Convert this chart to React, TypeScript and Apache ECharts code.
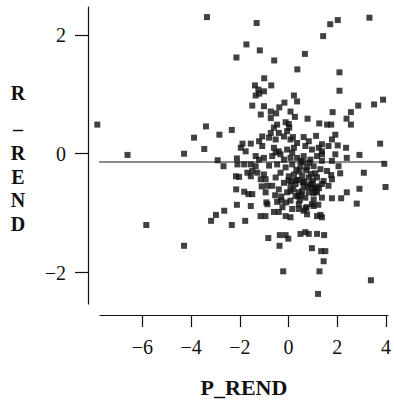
import { useEffect, useRef } from "react";
import * as echarts from "echarts";

// P_REND (x) and R_REND (y) observations
const pRend = [
  -7.85, -6.61, -4.29, -3.88, -5.84, -4.29, -3.35, -1.31, -1.73, -1.18,
  -2.14, -0.59, -1.0, -1.38, -0.71, -1.24, -1.01, -1.21, 1.71, 2.02,
  3.32, 1.42, 0.67, 0.36, 2.09, 2.09, 0.22, 0.35, 3.88, 3.51,
  2.86, -1.49, -1.01, -0.17, -0.38, -1.14, -0.73, -0.51, 1.81, 2.56,
  2.38, 0.26, 0.78, -3.39, -2.84, -2.33, -3.46, 1.26, 1.58, 1.75,
  2.56, -0.12, 0.03, 3.76, 3.93, 3.09, 2.91, 2.39, 2.12, 2.91,
  3.98, 2.39, 1.78, 2.16, 2.8, 0.96, 1.34, 1.51, 1.44, 1.27,
  1.21, 3.38, -0.22, -0.83, -0.36, -0.12, -0.01, -0.37, 0.49, 0.69,
  0.83, 1.17, 1.46, -3.18, -2.98, -2.64, -2.33, -2.12, -1.78, -1.55,
  -1.65, -1.49, -2.15, -1.82, -1.15, -0.95, -0.91, -0.6, -0.4, -0.47,
  -0.12, 0.15, 0.08, 0.42, 0.62, 0.76, 1.03, 1.17, 1.37, 1.31,
  -0.94, -0.87, -0.67, -2.16, -2.03, -1.55, -1.69, -1.28, -1.14, -1.49,
  -1.01, -0.94, -2.91, -2.67, -2.12, -2.1, -1.82, -1.55, -1.35, -1.35,
  -1.21, -1.01, -0.6, -0.4, -1.89, -1.55, -1.96, -1.76, -1.21, -1.08,
  -0.6, -0.73, -1.08, -0.19, -0.8, 0.08, 0.62, 1.13, 1.64, 1.92,
  1.78, 2.02, 2.36, 0.22, 0.69, 0.96, 1.24, 1.37, 1.37, 1.58,
  1.75, 1.37, 0.96, 1.09, -0.87, -0.3, -0.67, -0.53, -0.33,
  0.29, 0.56, 0.83, 1.03, 0.96, 0.08, 0.42, 0.69, 1.17, 1.37,
  0.15, 0.35, 0.62, 0.9, 1.17, 1.37, 0.15, 0.49, 0.76, 1.03,
  1.31, 0.22, 0.56, 0.83, 1.17, 1.44, 0.29, 0.62, 0.08, 0.42,
  -0.06, -0.19, 0.08, -0.47, -0.12, -0.33, 0.01, -0.53, -0.19, 0.08,
  -0.4, -0.06, 0.01, 0.18, 0.35, 0.83, 1.37, -1.35, -0.73, 0.08,
  -0.47, -0.4, -0.06, -0.53, 1.78, 2.05, 1.92, 1.78, 1.64,
  0.45, 0.72, 1.1, 0.3, 0.58, 0.95, 1.25, 0.5, 0.85, 1.15,
  -0.25, 0.0, 0.4, 0.7, 1.0,
  0.38, 0.64, 0.88, 1.08, 0.2, 0.52, 0.78, 1.02, 0.32, 0.6,
  0.92, -0.3, -0.1, 0.12, 0.46, 0.74, 1.22, -0.8, -1.1, -0.55,
];

const rRend = [
  0.49, -0.02, 0.0, 0.27, -1.2, -1.55, 2.3, 2.2, 1.84, 1.74,
  1.62, 1.57, 1.27, 1.15, 1.15, 1.08, 1.05, 1.01, 2.18, 2.25,
  2.29, 1.98, 1.68, 1.42, 1.37, 1.06, 0.98, 0.88, 0.91, 0.83,
  0.81, 0.81, 0.8, 0.86, 0.78, 0.66, 0.71, 0.68, 0.7, 0.7,
  0.59, 0.62, 0.59, 0.46, 0.32, 0.4, 0.08, 0.51, 0.49, 0.49,
  0.49, 0.53, 0.44, 0.17, -0.17, -0.32, -0.02, -0.07, -0.33, -0.59,
  -0.56, -0.65, -0.75, -0.75, -0.84, -1.59, -1.64, -1.64, -1.81, -1.98,
  -2.36, -2.13, -1.98, -1.42, -1.37, -1.37, -1.43, -1.55, -1.35, -1.32,
  -1.35, -1.35, -1.37, -1.13, -1.03, -0.96, -1.2, -0.86, -1.13, -0.88,
  -0.68, -0.68, -0.6, -0.64, -1.05, -1.05, -0.82, -0.98, -0.98, -0.81,
  -1.05, -0.93, -1.07, -0.93, -0.96, -1.02, -0.88, -1.05, -1.07, -1.03,
  -0.65, -0.54, -0.54, -0.38, -0.39, -0.38, -0.32, -0.32, -0.43, -0.29,
  -0.35, -0.43, -0.11, -0.21, -0.08, -0.18, -0.18, -0.18, -0.21, -0.04,
  -0.1, -0.07, 0.1, 0.04, 0.17, 0.17, 0.1, 0.04, 0.21, 0.13,
  0.44, 0.35, 0.29, 0.29, 0.27, 0.24, 0.28, 0.3, 0.13, 0.32,
  0.24, 0.14, 0.1, 0.1, 0.13, 0.07, 0.1, 0.04, -0.01, -0.29,
  -0.36, -0.51, -0.57, -0.64, -0.85, -0.79, -0.04, 0.02, -0.01,
  -0.71, -0.63, -0.65, -0.77, -0.85, -0.79, -0.85, -0.74, -0.65, -0.74,
  0.02, -0.07, -0.04, -0.1, -0.04, -0.12, -0.18, -0.21, -0.23, -0.21,
  -0.26, -0.35, -0.38, -0.4, -0.4, -0.46, -0.51, -0.54, -0.63, -0.65,
  0.07, -0.1, -0.07, -0.18, -0.23, -0.32, -0.38, -0.4, -0.49, -0.54,
  -0.6, -0.65, 0.5, 0.28, 0.18, 0.21, 0.16, 0.98, 0.6, 0.71,
  0.49, 0.35, 0.38, 0.24, -0.12, -0.21, -0.01, -0.43, -0.54,
  -0.3, -0.28, -0.33, -0.45, -0.48, -0.5, -0.58, -0.12, -0.15, -0.55,
  -0.9, -0.45, -0.72, -0.92, -0.45,
  -0.44, -0.47, -0.52, -0.58, -0.6, -0.7, -0.56, -0.66, -0.27, -0.14,
  -0.34, -0.72, -0.82, -0.46, -0.78, -0.9, -0.86, -0.2, -0.55, -0.7,
];

// fitted line
const fitX = [-7.91, 3.97];
const fitY = [-0.14, -0.14];

const xTicks = [-6, -4, -2, 0, 2, 4];
const yTicks = [-2, 0, 2];

// vertical axis title, one character per line
const yTitleChars = ["R", "_", "R", "E", "N", "D"];
const yTitleRows = [93, 121, 153, 177, 200, 224];

const FONT = "Liberation Serif, Times New Roman, serif";
const INK = "#111";

const fmt = (v: number) => (v < 0 ? "\u2212" + Math.abs(v) : String(v));

export default function App() {
  const ref = useRef<HTMLDivElement>(null);

  useEffect(() => {
    const chart = echarts.init(ref.current!, null, { renderer: "svg" });
    const points = pRend.map((x, i) => [x, rRend[i]]);
    const fit = fitX.map((x, i) => [x, fitY[i]]);

    chart.setOption({
      animation: false,
      backgroundColor: "#fff",
      grid: { left: 100, right: 4, top: 7, bottom: 98 },
      xAxis: {
        type: "value",
        min: -7.74,
        max: 4.08,
        offset: 11,
        axisLine: { onZero: false, lineStyle: { color: INK, width: 1.2 } },
        axisTick: { customValues: xTicks, length: 12, lineStyle: { color: INK, width: 1.2 } },
        axisLabel: {
          customValues: xTicks,
          formatter: fmt,
          margin: 22,
          fontFamily: FONT,
          fontSize: 20,
          color: INK,
        },
        splitLine: { show: false },
        name: "P_REND",
        nameLocation: "middle",
        nameGap: 61,
        nameTextStyle: { fontFamily: FONT, fontWeight: "bold", fontSize: 22, color: INK },
      },
      yAxis: {
        type: "value",
        min: -2.53,
        max: 2.47,
        offset: 12,
        axisLine: { show: true, onZero: false, lineStyle: { color: INK, width: 1.2 } },
        axisTick: { show: true, customValues: yTicks, length: 13, lineStyle: { color: INK, width: 1.2 } },
        axisLabel: {
          customValues: yTicks,
          formatter: fmt,
          margin: 22,
          fontFamily: FONT,
          fontSize: 20,
          color: INK,
        },
        splitLine: { show: false },
      },
      graphic: yTitleChars.map((ch, i) => ({
        type: "text",
        x: 18,
        y: yTitleRows[i],
        style: {
          text: ch,
          font: `bold 20px ${FONT}`,
          fill: INK,
          align: "center",
          verticalAlign: "middle",
        },
      })),
      series: [
        {
          type: "line",
          data: fit,
          showSymbol: false,
          clip: false,
          z: 1,
          lineStyle: { color: "#8c8c8c", width: 2 },
        },
        {
          type: "scatter",
          data: points,
          symbol: "rect",
          symbolSize: 6,
          clip: false,
          z: 2,
          itemStyle: { color: "#111" },
        },
      ],
    });

    return () => chart.dispose();
  }, []);

  return (
    <div
      ref={ref}
      style={{ position: "absolute", left: 0, top: 0, width: 394, height: 403 }}
    />
  );
}
